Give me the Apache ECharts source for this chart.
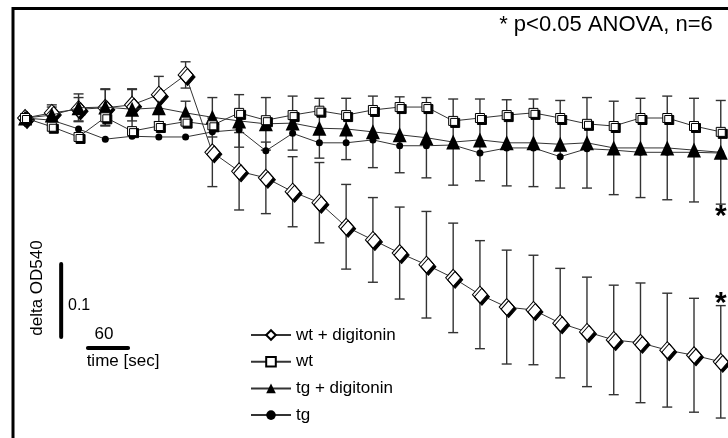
<!DOCTYPE html>
<html>
<head>
<meta charset="utf-8">
<script src="https://cdn.jsdelivr.net/npm/echarts@6/dist/echarts.min.js"></script>
<style>
  html, body { margin: 0; padding: 0; background: #fff; }
  #chart { width: 728px; height: 438px; }
</style>
</head>
<body>
<div id="chart"></div>
<script>
// Sampling times (s)
const timeSec = [0, 40, 80, 120, 160, 200, 240, 280, 320, 360, 400, 440, 480, 520,
                 560, 600, 640, 680, 720, 760, 800, 840, 880, 920, 960, 1000, 1040];

// delta OD540, mean and SEM
const wtDigitonin = [0, 0.007, 0.012, 0.014, 0.018, 0.032, 0.059, -0.047, -0.073, -0.082,
                     -0.101, -0.116, -0.149, -0.167, -0.185, -0.201, -0.219, -0.242, -0.259,
                     -0.263, -0.281, -0.293, -0.304, -0.308, -0.318, -0.325, -0.334];
const wtDigitoninErr = [0, 0.008, 0.016, 0.025, 0.022, 0.025, 0.018, 0.047, 0.053, 0.049,
                        0.048, 0.055, 0.058, 0.058, 0.063, 0.073, 0.075, 0.074, 0.078,
                        0.075, 0.075, 0.075, 0.075, 0.082, 0.078, 0.078, 0.077];

const wt = [0, -0.012, -0.026, 0.001, -0.018, -0.011, -0.005, -0.010, 0.007, -0.003,
            0.004, 0.010, 0.004, 0.011, 0.015, 0.015, -0.004, 0.000, 0.004, 0.007,
            0.000, -0.008, -0.011, 0.000, 0.000, -0.011, -0.019];

const tgDigitonin = [0, 0.004, 0.014, 0.015, 0.012, 0.014, 0.007, 0.001, -0.004, -0.008,
                     -0.007, -0.014, -0.015, -0.019, -0.023, -0.027, -0.033, -0.030, -0.034,
                     -0.034, -0.036, -0.034, -0.041, -0.041, -0.041, -0.044, -0.047];
const tgDigitoninErr = [0, 0.014, 0.019, 0.025, 0.027, 0.019, 0.016, 0.027, 0.036, 0.036,
                        0.037, 0.041, 0.042, 0.049, 0.052, 0.055, 0.059, 0.056, 0.059,
                        0.060, 0.060, 0.062, 0.064, 0.068, 0.071, 0.071, 0.071];

const tg = [0, -0.003, -0.015, -0.029, -0.025, -0.026, -0.026, -0.019, -0.016, -0.045,
            -0.021, -0.034, -0.034, -0.030, -0.038, -0.038, -0.037, -0.048, -0.041,
            -0.041, -0.053, -0.042, -0.044, -0.047, -0.047, -0.047, -0.048];

// Scale bars
const scaleOD = 0.1;
const scaleSec = 60;
const scaleBarTime = 54;       // x position of the OD bar
const scaleBarTop = -0.2;      // upper end of the OD bar
const timeBarStart = 94;
const timeBarLevel = -0.315;

const FONT = "'Liberation Sans', Arial, Helvetica, sans-serif";
const INK = '#000';
const LINE = '#333';

const chart = echarts.init(document.getElementById('chart'), null, { renderer: 'canvas' });

function pairs(values) {
  return timeSec.map((t, i) => [t, values[i]]);
}

function errorBars(name, values, errs, z) {
  return {
    type: 'custom',
    name: name,
    z: z,
    silent: true,
    clip: false,
    data: timeSec.map((t, i) => [t, values[i] - errs[i], values[i] + errs[i]])
                 .filter((d, i) => errs[i] > 0),
    encode: { x: 0, y: [1, 2] },
    renderItem(params, api) {
      const lo = api.coord([api.value(0), api.value(1)]);
      const hi = api.coord([api.value(0), api.value(2)]);
      const x = lo[0];
      const hw = 5;
      const style = { stroke: LINE, lineWidth: 1.4 };
      return {
        type: 'group',
        children: [
          { type: 'line', shape: { x1: x, y1: hi[1], x2: x, y2: lo[1] }, style },
          { type: 'line', shape: { x1: x - hw, y1: hi[1], x2: x + hw, y2: hi[1] }, style },
          { type: 'line', shape: { x1: x - hw, y1: lo[1], x2: x + hw, y2: lo[1] }, style }
        ]
      };
    }
  };
}

const dropShadow = { shadowColor: '#000', shadowOffsetX: 2, shadowOffsetY: 2, shadowBlur: 0 };

const last = timeSec.length - 1;

const option = {
  animation: false,
  backgroundColor: '#fff',
  grid: {
    show: true,
    outerBoundsMode: 'none',
    containLabel: false,
    left: 13, top: 8.5, width: 814.8, height: 438,
    borderColor: INK, borderWidth: 3,
    backgroundColor: 'transparent'
  },
  xAxis: { type: 'value', min: -18, max: 1200, show: false },
  yAxis: { type: 'value', min: -0.45, max: 0.15, show: false },
  legend: {
    orient: 'vertical',
    left: 250, top: 325, padding: 0,
    itemWidth: 40, itemHeight: 12, itemGap: 6.7,
    data: ['wt + digitonin', 'wt', 'tg + digitonin', 'tg'],
    textStyle: { fontFamily: FONT, fontSize: 17, color: INK, lineHeight: 20 },
    itemStyle: { shadowColor: 'transparent', shadowOffsetX: 0, shadowOffsetY: 0, shadowBlur: 0 }
  },
  series: [
    errorBars('wt + digitonin SEM', wtDigitonin, wtDigitoninErr, 1),
    errorBars('tg + digitonin SEM', tgDigitonin, tgDigitoninErr, 1),
    {
      type: 'line', name: 'wt + digitonin', z: 2,
      data: pairs(wtDigitonin),
      symbol: 'diamond', symbolSize: [15, 17],
      lineStyle: { color: LINE, width: 1 },
      itemStyle: Object.assign({ color: '#fff', borderColor: INK, borderWidth: 1 }, dropShadow)
    },
    {
      type: 'line', name: 'tg', z: 3,
      data: pairs(tg),
      symbol: 'circle', symbolSize: 7,
      lineStyle: { color: LINE, width: 1 },
      itemStyle: { color: INK, borderColor: INK, borderWidth: 0 }
    },
    {
      type: 'line', name: 'tg + digitonin', z: 4,
      data: pairs(tgDigitonin),
      symbol: 'triangle', symbolSize: [14, 15],
      lineStyle: { color: LINE, width: 1 },
      itemStyle: { color: INK, borderColor: INK, borderWidth: 0 }
    },
    {
      type: 'line', name: 'wt', z: 5,
      data: pairs(wt),
      symbol: 'rect', symbolSize: 9,
      lineStyle: { color: LINE, width: 1 },
      itemStyle: Object.assign({ color: '#fff', borderColor: INK, borderWidth: 1 }, dropShadow)
    },
    // significance marks at the last time point
    {
      type: 'scatter', name: 'significance', z: 6, silent: true,
      symbolSize: 0,
      itemStyle: { color: 'transparent', opacity: 1 },
      label: {
        show: true, formatter: '*', color: INK, opacity: 1,
        fontFamily: FONT, fontSize: 30, fontWeight: 'bold'
      },
      data: [
        { value: [timeSec[last], tgDigitonin[last] - tgDigitoninErr[last]],
          label: { position: 'bottom', distance: -2 } },
        { value: [timeSec[last], wtDigitonin[last] + wtDigitoninErr[last]],
          label: { position: 'top', distance: -13 } }
      ]
    },
    // scale bars
    {
      type: 'line', name: 'od-scale', z: 6, silent: true, symbol: 'none',
      lineStyle: { color: INK, width: 4, cap: 'round' },
      data: [[scaleBarTime, scaleBarTop], [scaleBarTime, scaleBarTop - scaleOD]]
    },
    {
      type: 'line', name: 'time-scale', z: 6, silent: true, symbol: 'none',
      lineStyle: { color: INK, width: 4, cap: 'round' },
      data: [[timeBarStart, timeBarLevel], [timeBarStart + scaleSec, timeBarLevel]]
    }
  ],
  graphic: [
    {
      type: 'text', x: 606, y: 25,
      style: { text: '* p<0.05 ANOVA, n=6', font: "22px " + FONT, fill: INK,
               textAlign: 'center', textVerticalAlign: 'middle' }
    },
    {
      type: 'text', x: 37, y: 288, rotation: Math.PI / 2,
      style: { text: 'delta OD540', font: "17px " + FONT, fill: INK,
               textAlign: 'center', textVerticalAlign: 'middle' }
    },
    {
      type: 'text', x: 68, y: 306,
      style: { text: String(scaleOD), font: "16px " + FONT, fill: INK,
               textAlign: 'left', textVerticalAlign: 'middle' }
    },
    {
      type: 'text', x: 104, y: 334,
      style: { text: String(scaleSec), font: "17px " + FONT, fill: INK,
               textAlign: 'center', textVerticalAlign: 'middle' }
    },
    {
      type: 'text', x: 123, y: 361,
      style: { text: 'time [sec]', font: "17px " + FONT, fill: INK,
               textAlign: 'center', textVerticalAlign: 'middle' }
    }
  ]
};

chart.setOption(option);
</script>
</body>
</html>
